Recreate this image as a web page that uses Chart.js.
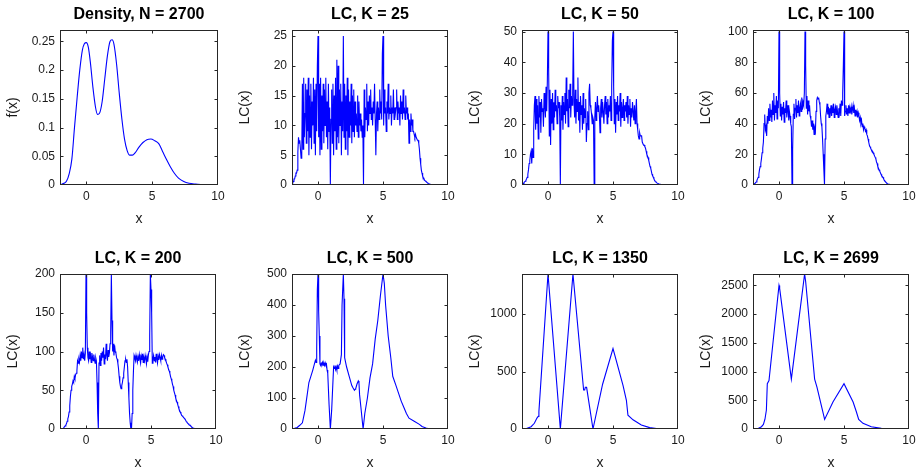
<!DOCTYPE html>
<html>
<head>
<meta charset="utf-8">
<script src="https://cdn.jsdelivr.net/npm/chart.js@4/dist/chart.umd.min.js"></script>
<style>
  html, body { margin: 0; padding: 0; background: #fff; overflow: hidden; width: 917px; height: 474px; }
  .panel { position: absolute; }
</style>
</head>
<body>
<script>
// ---------- DATA ----------
const titles = ["Density, N = 2700", "LC, K = 25", "LC, K = 50", "LC, K = 100",
                "LC, K = 200", "LC, K = 500", "LC, K = 1350", "LC, K = 2699"];
const yAxisLabels = ["f(x)", "LC(x)", "LC(x)", "LC(x)", "LC(x)", "LC(x)", "LC(x)", "LC(x)"];
const xTickValues = [0, 5, 10];
const xTickLabels = ["0", "5", "10"];
const xMin = -2, xMax = 10;
const yMaxes = [0.27, 26, 50.5, 101, 200, 500, 1350, 2700];
const yTickValues = [
  [0, 0.05, 0.1, 0.15, 0.2, 0.25],
  [0, 5, 10, 15, 20, 25],
  [0, 10, 20, 30, 40, 50],
  [0, 20, 40, 60, 80, 100],
  [0, 50, 100, 150, 200],
  [0, 100, 200, 300, 400, 500],
  [0, 500, 1000],
  [0, 500, 1000, 1500, 2000, 2500]
];
const yTickLabels = [
  ["0", "0.05", "0.1", "0.15", "0.2", "0.25"],
  ["0", "5", "10", "15", "20", "25"],
  ["0", "10", "20", "30", "40", "50"],
  ["0", "20", "40", "60", "80", "100"],
  ["0", "50", "100", "150", "200"],
  ["0", "100", "200", "300", "400", "500"],
  ["0", "500", "1000"],
  ["0", "500", "1000", "1500", "2000", "2500"]
];

// density curve (x, f(x))
const densityPts = [[-1.9,0.001],[-1.7,0.003],[-1.5,0.007],[-1.3,0.02],[-1.1,0.045],[-0.9,0.1],[-0.7,0.152],
  [-0.5,0.2],[-0.3,0.235],[-0.15,0.246],[0,0.248],[0.15,0.24],[0.3,0.215],[0.5,0.17],[0.7,0.135],[0.85,0.123],
  [1.0,0.125],[1.2,0.145],[1.4,0.185],[1.6,0.225],[1.8,0.25],[1.95,0.253],[2.1,0.245],[2.3,0.21],[2.5,0.16],
  [2.7,0.115],[2.9,0.08],[3.1,0.06],[3.3,0.052],[3.5,0.052],[3.7,0.056],[4.0,0.066],[4.3,0.074],[4.6,0.079],
  [4.9,0.08],[5.2,0.077],[5.5,0.072],[5.8,0.058],[6.1,0.044],[6.4,0.031],[6.7,0.02],[7.0,0.012],[7.4,0.006],
  [7.8,0.003],[8.3,0.0015],[8.9,0.0003]];

// common x grid for the noisy LC curves
const xGrid = [
-2,-1.95,-1.9,-1.85,-1.8,-1.75,-1.7,-1.65,-1.6,-1.55,-1.5,-1.45,-1.4,-1.35,-1.3,-1.25,-1.2,-1.15,-1.1,-1.05,
-1,-0.95,-0.9,-0.85,-0.8,-0.75,-0.7,-0.65,-0.6,-0.55,-0.5,-0.45,-0.4,-0.35,-0.3,-0.25,-0.2,-0.15,-0.1,-0.05,
0,0.05,0.1,0.15,0.2,0.25,0.3,0.35,0.4,0.45,0.5,0.55,0.6,0.65,0.7,0.75,0.8,0.85,0.9,0.95,
1,1.05,1.1,1.15,1.2,1.25,1.3,1.35,1.4,1.45,1.5,1.55,1.6,1.65,1.7,1.75,1.8,1.85,1.9,1.95,
2,2.05,2.1,2.15,2.2,2.25,2.3,2.35,2.4,2.45,2.5,2.55,2.6,2.65,2.7,2.75,2.8,2.85,2.9,2.95,
3,3.05,3.1,3.15,3.2,3.25,3.3,3.35,3.4,3.45,3.5,3.55,3.6,3.65,3.7,3.75,3.8,3.85,3.9,3.95,
4,4.05,4.1,4.15,4.2,4.25,4.3,4.35,4.4,4.45,4.5,4.55,4.6,4.65,4.7,4.75,4.8,4.85,4.9,4.95,
5,5.05,5.1,5.15,5.2,5.25,5.3,5.35,5.4,5.45,5.5,5.55,5.6,5.65,5.7,5.75,5.8,5.85,5.9,5.95,
6,6.05,6.1,6.15,6.2,6.25,6.3,6.35,6.4,6.45,6.5,6.55,6.6,6.65,6.7,6.75,6.8,6.85,6.9,6.95,
7,7.05,7.1,7.15,7.2,7.25,7.3,7.35,7.4,7.45,7.5,7.55,7.6,7.65,7.7,7.75,7.8,7.85,7.9,7.95,
8,8.05,8.1,8.15,8.2,8.25,8.3,8.35,8.4,8.45,8.5,8.55,8.6,8.65,8.7,8.75,8.8,8.85,8.9,8.95,
9];

const lc25 = [
0,0.3,0.6,1,1,1.5,2,2,2.5,5.5,8,7,7.5,6,4.5,5,17,6,18,8,
12,17,7,16,9,18,5,15,8,17,6,14,10,18,7,16,5,17,9,20,
25,8,17,5,18,6,15,9,17,7,16,10,18,8,14,6,17,9,13,0,
11,16,7,17,5,15,9,18,6,21,8,20,7,16,10,17,5,14,9,25,
8,17,6,15,9,18,5,16,8,14,10,17,7,15,9,16,8,14,10,12,
9,15,8,14,10,12,9,11,8,10,0,16,8,13,11,17,9,14,10,15,
12,16,11,13,10,14,12,17,11,5,12,14,9,13,11,16,12,14,11,22,
25,10,16,12,13,9,14,12,17,11,13,12,15,10,13,12,16,11,13,12,
13,16,11,14,12,13,10,15,12,14,11,16,12,13,11,15,12,13,11,12,
7,11,9,12,10,11,9,9,8.5,8,8.5,8,8,7.5,7.5,7,6,4.5,3.5,2.5,
2,1.5,1.2,1,0.8,0.7,0.6,0.5,0.4,0.3,0.2,0.2,0.1,0.1,0,0,0,0,0,0,
0];

const lc50 = [
0,0.3,0.5,0.8,1,1.2,1.5,2,2.5,3.5,5,7,8,10,11,7,12,9,18,26,
29,18,28,20,26,15,29,22,27,17,28,24,25,19,30,26,22,32,24,34,
50,38,16,31,13,28,20,30,18,27,22,31,24,26,20,29,25,27,22,0,
26,21,29,18,27,23,30,20,35,24,28,19,31,25,33,22,29,26,30,50,
27,22,31,20,28,24,35,21,27,17,29,23,26,18,30,20,25,22,28,14,
20,24,18,30,33,26,25,23,20,22,21,0,22,27,21,25,29,24,26,23,
17,25,28,22,27,24,20,26,29,23,27,20,28,22,26,24,29,21,32,47,
50,32,20,28,17,27,23,29,21,26,24,30,19,27,22,25,28,21,26,24,
27,22,29,20,26,23,28,19,25,22,27,24,21,26,20,24,28,20,18,16,
15,17,16,16,16,14,14,13,13,12.5,12,11,10,9.5,9,8,7,6,5.5,4.5,
3.5,3,2.5,2,1.5,1.2,1,0.8,0.6,0.5,0.4,0.3,0.3,0.2,0.1,0.1,0,0,0,0,
0];

const lc100 = [
0,0.5,0.8,1,1.5,2,3,4,5,7,10,12,14,17,21,24,28,40,46,36,
38,32,45,40,50,42,53,44,49,41,55,46,60,42,52,47,58,43,55,50,
100,60,45,53,42,51,46,54,41,50,47,55,44,49,52,42,48,45,40,38,
0,23,46,53,43,50,56,44,52,47,55,45,50,53,48,57,49,54,52,60,
100,78,50,58,46,55,48,52,45,43,38,42,36,40,33,37,35,48,55,57,
56,57,54,52,45,40,38,30,20,10,0,30,45,48,53,46,51,44,50,47,
52,45,50,47,53,44,49,51,46,52,48,44,50,47,53,45,55,52,60,78,
100,45,48,52,46,50,45,52,47,50,48,51,46,49,52,47,50,45,49,46,
48,44,47,45,42,44,40,42,38,40,36,38,37,35,36,33,32,30,28,26,
25,24,23,22,22,21,20,19,18,17,15,14,12,11,10,9,8,7,6,5.5,
5,4,3,2.5,2,1.5,1,0.8,0.6,0.5,0.4,0.3,0.2,0.1,0,0,0,0,0,0,
0];

const lc200 = [
0,0,0,0,0.5,1,2,3,4,5,7,10,13,16,22,30,42,50,55,58,
62,60,68,65,70,72,75,88,85,90,86,95,88,100,92,105,90,96,88,98,
200,150,105,92,88,100,90,95,86,98,93,88,96,90,85,92,88,60,20,0,
85,95,82,98,88,100,92,105,84,96,90,110,95,88,102,93,98,110,125,200,
140,100,110,95,108,100,98,92,90,85,78,68,60,55,52,56,60,66,72,80,
88,90,86,90,80,60,40,20,8,0,0,20,50,75,95,92,88,95,90,86,
93,88,96,90,85,94,89,97,86,92,88,95,90,84,93,87,96,100,120,200,
180,150,85,90,95,88,93,86,97,90,85,94,89,96,92,88,95,90,93,96,
95,92,90,88,85,83,80,77,75,72,68,65,62,58,55,50,47,44,40,37,
35,32,29,26,24,22,20,18,17,16,15,14,13,12,10,9,8,7,6,5,
5,4,3,2,1.5,1,0.8,0.6,0.5,0.4,0.3,0.2,0.1,0,0,0,0,0,0,0,
0];

const lc500Pts = [[-2,0],[-1.8,2],[-1.6,5],[-1.4,12],[-1.2,20],[-1.0,60],[-0.9,90],[-0.7,150],[-0.55,170],
  [-0.4,190],[-0.2,222],[-0.15,215],[-0.1,260],[-0.05,450],[0,500],[0.05,380],[0.1,300],[0.15,210],[0.2,205],
  [0.25,212],[0.3,208],[0.35,215],[0.4,206],[0.45,212],[0.5,205],[0.55,214],[0.6,207],[0.65,210],[0.7,190],
  [0.75,180],[0.85,80],[0.95,0],[1.05,60],[1.2,200],[1.25,195],[1.3,205],[1.35,192],[1.4,200],[1.45,190],
  [1.5,203],[1.55,195],[1.6,205],[1.7,210],[1.8,240],[1.85,400],[1.95,500],[2.0,420],[2.05,230],[2.1,220],
  [2.2,200],[2.4,170],[2.6,140],[2.7,132],[2.8,125],[2.85,128],[2.9,130],[3.0,145],[3.1,155],[3.15,150],
  [3.2,110],[3.3,70],[3.47,0],[3.6,50],[3.8,100],[4.0,165],[4.2,210],[4.4,290],[4.6,350],[4.8,430],[5.0,500],
  [5.1,470],[5.2,400],[5.4,300],[5.6,230],[5.75,170],[6.0,140],[6.2,115],[6.4,90],[6.6,70],[6.8,50],[7.0,35],
  [7.4,25],[7.8,15],[8.0,8],[8.3,3],[8.6,0]];

const lc1350Pts = [[-2,0],[-1.65,5],[-1.3,20],[-1.05,50],[-0.85,95],[-0.75,110],[-0.7,150],[0,1350],[0.95,0],
  [1.92,1350],[2.74,340],[2.82,340],[2.87,363],[2.97,363],[3.46,0],[4.2,390],[5.0,700],[5.77,380],[6.03,250],
  [6.15,120],[6.54,80],[7.18,35],[7.82,12],[8.6,0]];

const lc2699Pts = [[-2,0],[-1.6,10],[-1.35,40],[-1.2,80],[-1.08,170],[-0.97,330],[-0.9,790],[-0.77,845],[0,2500],
  [0.05,2450],[0.95,870],[1.97,2700],[2.05,2570],[2.74,870],[2.92,730],[3.51,167],[4.15,470],[5.0,790],[5.7,470],
  [5.95,300],[6.13,167],[6.46,98],[7.1,40],[7.87,11],[8.77,0]];

// ---------- LAYOUT / STYLE ----------
const plotBoxes = [
  {left: 60,  top: 30,  right: 218, bottom: 185},
  {left: 292, top: 30,  right: 448, bottom: 185},
  {left: 522, top: 30,  right: 678, bottom: 185},
  {left: 753, top: 30,  right: 909, bottom: 185},
  {left: 60,  top: 274, right: 216, bottom: 429},
  {left: 292, top: 274, right: 448, bottom: 429},
  {left: 522, top: 274, right: 678, bottom: 429},
  {left: 753, top: 274, right: 909, bottom: 429}
];
const ML = 60, MT = 30, MR = 8, MB = 50;
const LINE = '#0000ff';
const AXIS = '#262626';
const TEXT = '#1a1a1a';
Chart.defaults.font.family = '"Liberation Sans", Arial, Helvetica, sans-serif';

const fromGrid = ys => xGrid.map((x, i) => ({x: x, y: ys[i]}));
const fromPairs = ps => ps.map(p => ({x: p[0], y: p[1]}));
const seriesList = [
  fromPairs(densityPts), fromGrid(lc25), fromGrid(lc50), fromGrid(lc100),
  fromGrid(lc200), fromPairs(lc500Pts), fromPairs(lc1350Pts), fromPairs(lc2699Pts)
];

const boxPlugin = {
  id: 'matlabBox',
  afterDraw(chart) {
    const {ctx, chartArea: a, scales} = chart;
    const L = Math.round(a.left) + 0.5, R = Math.round(a.right) - 0.5;
    const T = Math.round(a.top) + 0.5, B = Math.round(a.bottom) - 0.5;
    ctx.save();
    ctx.strokeStyle = AXIS;
    ctx.lineWidth = 1;
    ctx.strokeRect(L, T, R - L, B - T);
    const tl = 3;
    ctx.beginPath();
    scales.x.ticks.forEach(t => {
      const px = Math.round(scales.x.getPixelForValue(t.value)) + 0.5;
      if (px <= L + 1 || px >= R - 1) return;
      ctx.moveTo(px, B); ctx.lineTo(px, B - tl);
      ctx.moveTo(px, T); ctx.lineTo(px, T + tl);
    });
    scales.y.ticks.forEach(t => {
      const py = Math.round(scales.y.getPixelForValue(t.value)) + 0.5;
      if (py <= T + 1 || py >= B - 1) return;
      ctx.moveTo(L, py); ctx.lineTo(L + tl, py);
      ctx.moveTo(R, py); ctx.lineTo(R - tl, py);
    });
    ctx.stroke();
    ctx.restore();
  }
};

plotBoxes.forEach((b, i) => {
  const w = (b.right - b.left) + ML + MR;
  const h = (b.bottom - b.top) + MT + MB;
  const div = document.createElement('div');
  div.className = 'panel';
  div.style.left = (b.left - ML) + 'px';
  div.style.top = (b.top - MT) + 'px';
  div.style.width = w + 'px';
  div.style.height = h + 'px';
  const cv = document.createElement('canvas');
  cv.width = w; cv.height = h;
  cv.style.width = w + 'px'; cv.style.height = h + 'px';
  div.appendChild(cv);
  document.body.appendChild(div);

  const smooth = (i === 0);
  const yVals = yTickValues[i], yLabs = yTickLabels[i];
  new Chart(cv, {
    type: 'line',
    data: {
      datasets: [{
        data: seriesList[i],
        borderColor: LINE,
        borderWidth: 1.1,
        pointRadius: 0,
        fill: false,
        tension: smooth ? 0.4 : 0,
        cubicInterpolationMode: smooth ? 'monotone' : 'default'
      }]
    },
    options: {
      responsive: false,
      animation: false,
      devicePixelRatio: 1,
      events: [],
      layout: { padding: { left: 0, right: MR, top: 0, bottom: 0 } },
      plugins: {
        legend: { display: false },
        tooltip: { enabled: false },
        title: {
          display: true, text: titles[i], fullSize: false, color: '#000',
          font: { size: 16, weight: 'bold' }, padding: { top: 5, bottom: 5.8 }
        }
      },
      scales: {
        x: {
          type: 'linear', position: 'bottom', min: xMin, max: xMax,
          grid: { display: false, drawTicks: false }, border: { display: false },
          ticks: { autoSkip: false, maxRotation: 0, minRotation: 0, padding: 4, color: TEXT,
                   font: { size: 12 }, callback: (v, idx) => xTickLabels[idx] },
          afterBuildTicks: s => { s.ticks = xTickValues.map(v => ({value: v})); },
          afterFit: s => { s.height = MB; s.paddingLeft = 0; s.paddingRight = 0; },
          title: { display: true, text: 'x', color: TEXT, font: { size: 14 }, padding: { top: 0, bottom: 7.6 } }
        },
        y: {
          type: 'linear', position: 'left', min: 0, max: yMaxes[i],
          grid: { display: false, drawTicks: false }, border: { display: false },
          ticks: { autoSkip: false, padding: 5, color: TEXT,
                   font: { size: 12 }, callback: (v, idx) => yLabs[idx] },
          afterBuildTicks: s => { s.ticks = yVals.map(v => ({value: v})); },
          afterFit: s => { s.width = ML; s.paddingTop = 0; s.paddingBottom = 0; },
          title: { display: true, text: yAxisLabels[i], color: TEXT, font: { size: 14 }, padding: { top: 4.6, bottom: 0 } }
        }
      }
    },
    plugins: [boxPlugin]
  });
});
</script>
</body>
</html>
